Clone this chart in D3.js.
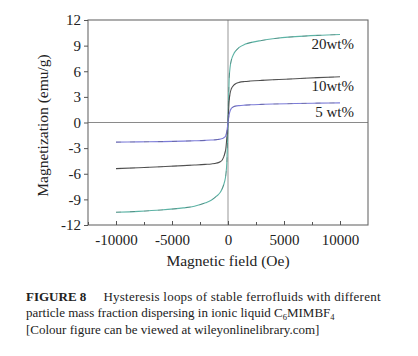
<!DOCTYPE html>
<html><head><meta charset="utf-8">
<script src="https://cdn.jsdelivr.net/npm/d3@7"></script>
<style>body{margin:0;background:#fff}svg{display:block}</style>
</head><body>
<svg id="c" width="418" height="356"></svg>
<script>
const fieldOe = [-10000,-8000,-6000,-4000,-3000,-2000,-1500,-1000,-700,-500,-300,-200,-100,0,100,200,300,500,700,1000,1500,2000,3000,4000,6000,8000,10000];
const m20 = [-10.5,-10.4,-10.25,-10.0,-9.8,-9.4,-9.1,-8.6,-8.2,-7.7,-6.9,-6.2,-4.6,0,5.0,6.6,7.3,8.0,8.4,8.8,9.15,9.35,9.6,9.8,10.05,10.2,10.3];
const m10 = [-5.4,-5.3,-5.18,-5.05,-4.98,-4.9,-4.85,-4.75,-4.6,-4.35,-3.7,-3.1,-1.8,0,2.5,3.5,3.95,4.35,4.55,4.7,4.8,4.85,4.93,5.0,5.12,5.25,5.35];
const m5 = [-2.3,-2.27,-2.24,-2.18,-2.14,-2.09,-2.05,-2.0,-1.95,-1.88,-1.72,-1.55,-1.0,0,0.9,1.4,1.65,1.85,1.93,1.98,2.03,2.07,2.12,2.16,2.22,2.27,2.3];
const seriesNames = ["20wt%","10wt%","5 wt%"];
const seriesColors = ["#5cb3a5","#555555","#7c7cd8"];
const xTicks = [-10000,-5000,0,5000,10000];
const xMinor = [-12500,-7500,-2500,2500,7500];
const yTicks = [-12,-9,-6,-3,0,3,6,9,12];

const svg = d3.select("#c");
const x = d3.scaleLinear().domain([-12500,12500]).range([88,368]);
const y = d3.scaleLinear().domain([-12,12]).range([225,20]);
const font = "'Liberation Serif','Times New Roman',serif";
const fmt = d => String(d).replace("\u2212","-");

// zero lines
svg.append("line").attr("x1",x(0)).attr("x2",x(0)).attr("y1",y(12)).attr("y2",y(-12)).attr("stroke","#a8a8a8").attr("stroke-width",1.2);
svg.append("line").attr("x1",x(-12500)).attr("x2",x(12500)).attr("y1",y(0)).attr("y2",y(0)).attr("stroke","#8a8a8a").attr("stroke-width",1);

// curves
const all = [m20,m10,m5];
const line = d3.line().x(d=>x(d[0])).y(d=>y(d[1])).curve(d3.curveMonotoneX);
all.forEach((m,i)=>{
  const pts = fieldOe.map((f,j)=>[f,m[j]]);
  svg.append("path").attr("d",line(pts)).attr("fill","none").attr("stroke",seriesColors[i]).attr("stroke-width",1.1);
  svg.append("path").attr("d",line(pts)).attr("fill","none").attr("stroke","#333").attr("stroke-opacity",0.35).attr("stroke-width",0.8).attr("stroke-dasharray","5,9");
});

// frame
svg.append("rect").attr("x",x(-12500)).attr("y",y(12)).attr("width",x(12500)-x(-12500)).attr("height",y(-12)-y(12)).attr("fill","none").attr("stroke","#6a6a6a").attr("stroke-width",1.1);

// y axis
const ya = svg.append("g").attr("transform",`translate(${x(-12500)},0)`).call(d3.axisLeft(y).tickValues(yTicks).tickSize(4).tickPadding(3).tickFormat(fmt));
ya.select(".domain").remove();
ya.selectAll("line").attr("stroke","#555");
ya.selectAll("text").attr("font-family",font).attr("font-size",15).attr("fill","#222");

// x axis (ticks inward)
const xa = svg.append("g").attr("transform",`translate(0,${y(-12)})`).call(d3.axisBottom(x).tickValues(xTicks).tickSize(-4).tickPadding(9).tickFormat(fmt));
xa.select(".domain").remove();
xa.selectAll("line").attr("stroke","#555");
xa.selectAll("text").attr("font-family",font).attr("font-size",15).attr("fill","#222");
const xm = svg.append("g").attr("transform",`translate(0,${y(-12)})`).call(d3.axisBottom(x).tickValues(xMinor).tickSize(-3).tickFormat(""));
xm.select(".domain").remove();
xm.selectAll("line").attr("stroke","#555");

// series labels
const labelY = [10.3,5.35,2.3];
seriesNames.forEach((n,i)=>{
  svg.append("text").attr("x",354).attr("y",y(labelY[i])+14).attr("text-anchor","end")
    .attr("font-family",font).attr("font-size",15).attr("fill","#222").text(n);
});

// axis titles
svg.append("text").attr("transform",`translate(48,${(y(12)+y(-12))/2+3}) rotate(-90)`).attr("text-anchor","middle")
  .attr("font-family",font).attr("font-size",15.5).attr("fill","#222").text("Magnetization (emu/g)");
svg.append("text").attr("x",228).attr("y",266).attr("text-anchor","middle")
  .attr("font-family",font).attr("font-size",15.5).attr("fill","#222").text("Magnetic field (Oe)");

// caption
const cap = svg.append("g").attr("font-family",font).attr("font-size",13).attr("fill","#222");
cap.append("text").attr("x",26).attr("y",300.5).attr("font-weight","bold").text("FIGURE 8");
cap.append("text").attr("x",103.5).attr("y",300.5).attr("textLength",277).attr("lengthAdjust","spacing").text("Hysteresis loops of stable ferrofluids with different");
const l2 = cap.append("text").attr("x",26).attr("y",317);
l2.append("tspan").text("particle mass fraction dispersing in ionic liquid C");
l2.append("tspan").attr("font-size",8.5).attr("dy",2.5).text("6");
l2.append("tspan").attr("dy",-2.5).text("MIMBF");
l2.append("tspan").attr("font-size",8.5).attr("dy",2.5).text("4");
cap.append("text").attr("x",26).attr("y",334).text("[Colour figure can be viewed at wileyonlinelibrary.com]");
</script>
</body></html>
